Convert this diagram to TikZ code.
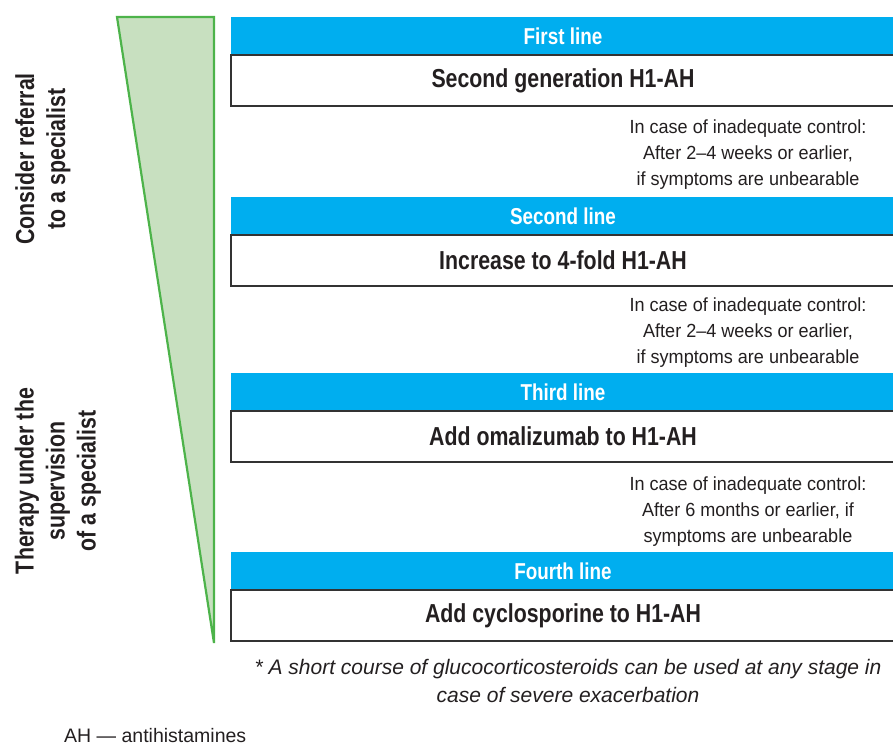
\documentclass[tikz,border=0pt]{standalone}
\usepackage{fontspec}
\setmainfont{Liberation Sans}[FakeStretch=0.82]
\newfontfamily\notefont{Liberation Sans}[FakeStretch=0.95]
\newfontfamily\plainfont{Liberation Sans}
\begin{document}
\begin{tikzpicture}[x=1pt,y=-1pt,
  hdrtext/.style={text=white,font=\bfseries\fontsize{23}{26}\selectfont},
  bodytext/.style={font=\bfseries\fontsize{26}{30}\selectfont,text=txt},
  note/.style={align=center,font=\notefont\fontsize{19}{26}\selectfont,text=txt},
  side/.style={align=center,rotate=90,font=\bfseries\fontsize{26}{31}\selectfont,text=txt}]
\definecolor{hblue}{HTML}{00AEEF}
\definecolor{bdark}{HTML}{333333}
\definecolor{txt}{HTML}{231F20}
\definecolor{tfill}{HTML}{C8E0C0}
\definecolor{tline}{HTML}{4DB34A}
\useasboundingbox (0,0) rectangle (893,748);
% triangle
\draw[fill=tfill,draw=tline,line width=2.2pt,line join=miter] (117,17) -- (214,17) -- (214,643) -- cycle;
% boxes
\foreach \n/\t/\h/\b in {1/17/First line/Second generation H1-AH,
                          2/197/Second line/Increase to 4-fold H1-AH,
                          3/373/Third line/Add omalizumab to H1-AH,
                          4/552/Fourth line/Add cyclosporine to H1-AH}{
  \fill[hblue] (231,\t) rectangle (894,\t+38);
  \node[hdrtext] (h\n) at (563,\t+19) {\h};
  \draw[draw=bdark,line width=1.3pt] (896,\t+38) -- (231,\t+38) -- (231,\t+89) -- (896,\t+89);
  \node[bodytext] (b\n) at (563,\t+63.5) {\b};
}
\node[note] (n1) at (748,155) {In case of inadequate control:\\After 2–4 weeks or earlier,\\if symptoms are unbearable};
\node[note] (n2) at (748,333) {In case of inadequate control:\\After 2–4 weeks or earlier,\\if symptoms are unbearable};
\node[note] (n3) at (748,511.5) {In case of inadequate control:\\After 6 months or earlier, if\\symptoms are unbearable};
\node[align=center,font=\plainfont\itshape\fontsize{21}{28}\selectfont,text=txt] (fn) at (568,681) {* A short course of glucocorticosteroids can be used at any stage in\\case of severe exacerbation};
\node[anchor=west,font=\plainfont\fontsize{19.5}{22}\selectfont,text=txt,inner sep=1pt] (ah) at (63,736) {AH — antihistamines};
\node[side] (s1) at (43,159) {Consider referral\\to a specialist};
\node[side] (s2) at (58,481) {Therapy under the\\supervision\\of a specialist};
\end{tikzpicture}
\end{document}
